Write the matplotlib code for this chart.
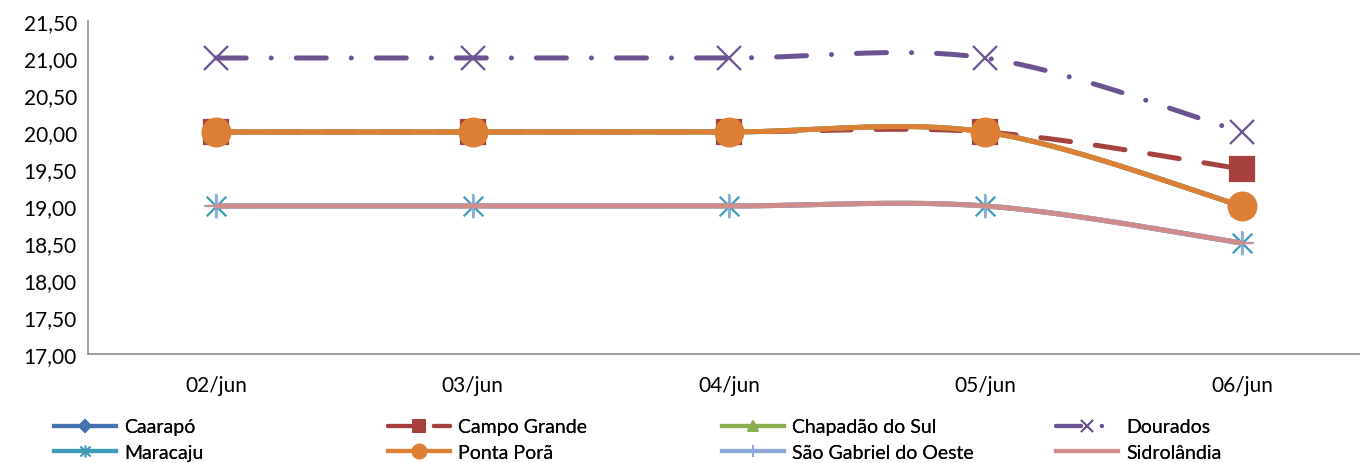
import numpy as np
import matplotlib.pyplot as plt
from matplotlib.lines import Line2D
from matplotlib.path import Path

plt.rcParams["font.family"] = ["Lato", "DejaVu Sans"]

dates = ["02/jun", "03/jun", "04/jun", "05/jun", "06/jun"]

caarapo = [20, 20, 20, 20, 19]
campo_grande = [20, 20, 20, 20, 19.5]
chapadao = [20, 20, 20, 20, 19]
dourados = [21, 21, 21, 21, 20]
maracaju = [19, 19, 19, 19, 18.5]
ponta_pora = [20, 20, 20, 20, 19]
sao_gabriel = [19, 19, 19, 19, 18.5]
sidrolandia = [19, 19, 19, 19, 18.5]

# Excel-like star marker: an X plus a vertical bar
star = Path([(-1, -1), (1, 1), (-1, 1), (1, -1), (0, -1.2), (0, 1.2)],
            [Path.MOVETO, Path.LINETO, Path.MOVETO, Path.LINETO, Path.MOVETO, Path.LINETO])

series = [
    ("Caarapó", caarapo, "#4472B0", "-", "D", 12),
    ("Campo Grande", campo_grande, "#A6413E", (0, (6, 5)), "s", 17),
    ("Chapadão do Sul", chapadao, "#8AAE4E", "-", "^", 15),
    ("Dourados", dourados, "#6B5392", (0, (6, 5, 0.01, 5)), "x", 17),
    ("Maracaju", maracaju, "#3D9CB7", "-", star, 17),
    ("Ponta Porã", ponta_pora, "#DD8035", "-", "o", 20),
    ("São Gabriel do Oeste", sao_gabriel, "#8FAAD8", "-", "+", 17),
    ("Sidrolândia", sidrolandia, "#D18B8B", "-", "_", 14),
]


def smooth(y, n=40):
    # Excel-style smoothed line: Bezier with Catmull-Rom control points
    x = np.arange(len(y), dtype=float)
    y = np.asarray(y, dtype=float)
    xs, ys = [], []
    for i in range(len(y) - 1):
        p0 = i - 1 if i > 0 else i
        p3 = i + 2 if i + 2 < len(y) else i + 1
        c1x = x[i] + (x[i + 1] - x[p0]) / 6
        c1y = y[i] + (y[i + 1] - y[p0]) / 6
        c2x = x[i + 1] - (x[p3] - x[i]) / 6
        c2y = y[i + 1] - (y[p3] - y[i]) / 6
        t = np.linspace(0, 1, n)
        b0, b1, b2, b3 = (1 - t) ** 3, 3 * t * (1 - t) ** 2, 3 * t ** 2 * (1 - t), t ** 3
        xs.append(b0 * x[i] + b1 * c1x + b2 * c2x + b3 * x[i + 1])
        ys.append(b0 * y[i] + b1 * c1y + b2 * c2y + b3 * y[i + 1])
    return np.concatenate(xs), np.concatenate(ys)


fig = plt.figure(figsize=(13.6, 4.64), dpi=100)
ax = fig.add_axes([88 / 1360, 1 - 355 / 464, (1360 - 88) / 1360, (355 - 22) / 464])

handles = []
for i, (name, vals, color, ls, mk, ms) in enumerate(series):
    sx, sy = smooth(vals)
    ax.plot(sx, sy, color=color, lw=3.6, ls=ls, dash_capstyle="round",
            solid_capstyle="butt", zorder=2 + i * 2)
    ax.plot(range(len(vals)), vals, ls="none", marker=mk, ms=ms, color=color,
            mec=color, mew=1.6, zorder=3 + i * 2)
    handles.append(Line2D([], [], color=color, lw=3.0, ls=ls, dash_capstyle="round",
                          marker=mk, ms=ms * 0.5, mec=color, mew=1.3))

ax.set_xlim(-0.5, 4.5 - 10 / 256)
ax.set_ylim(17, 21.5)
ax.set_yticks(np.arange(17, 21.51, 0.5))
ax.set_yticklabels([f"{v:.2f}".replace(".", ",") for v in np.arange(17, 21.51, 0.5)])
ax.set_xticks(range(len(dates)))
ax.set_xticklabels(dates)
ax.tick_params(length=0, labelsize=15, pad=8)
ax.tick_params(axis="x", pad=15)
for s in ["top", "right"]:
    ax.spines[s].set_visible(False)
for s in ["left", "bottom"]:
    ax.spines[s].set_color("#8C8C8C")
    ax.spines[s].set_linewidth(1.2)

# legend: 4 columns x 2 rows, row-major like Excel
col_x = [52, 386, 720, 1054]
for c in range(4):
    idx = [c, c + 4]
    leg = fig.legend([handles[k] for k in idx], [series[k][0] for k in idx],
                     loc="lower left", bbox_to_anchor=(col_x[c] / 1360, 0.0),
                     frameon=False, fontsize=14, handlelength=3.2,
                     handletextpad=0.4, labelspacing=0.45, borderpad=0.1,
                     borderaxespad=0.0)
    fig.add_artist(leg)

fig.savefig("out.png", dpi=100)
